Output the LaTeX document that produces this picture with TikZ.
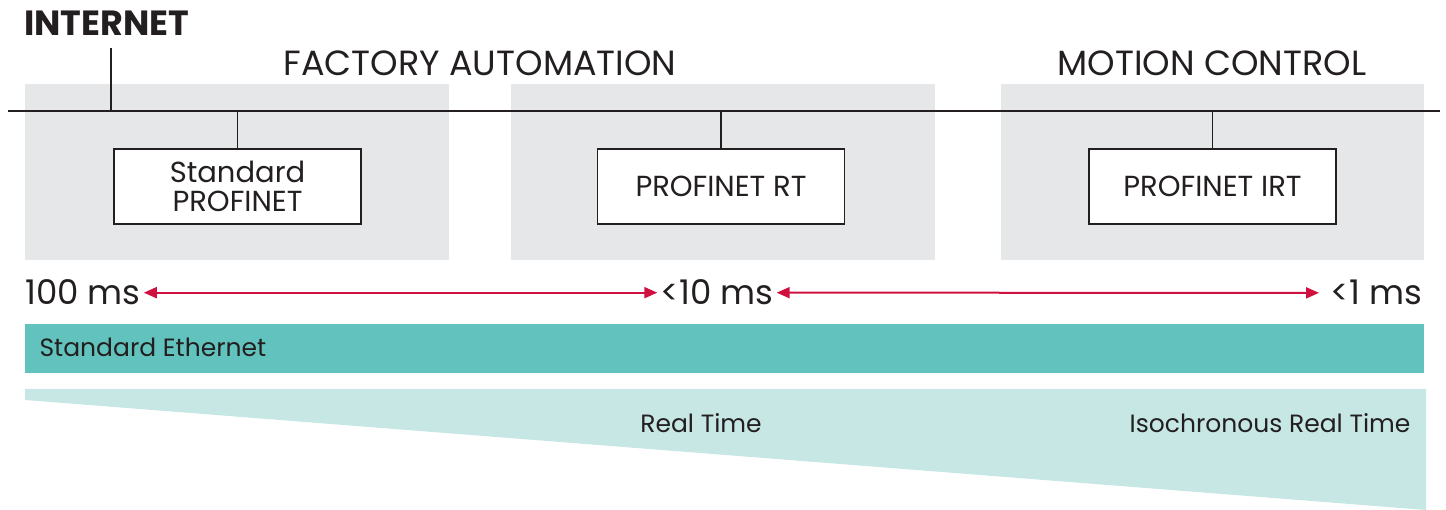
\documentclass[tikz,border=0pt]{standalone}
\usepackage{fontspec}
\setmainfont{Poppins}
\usetikzlibrary{arrows.meta}

\definecolor{areagray}{HTML}{E6E7E8}
\definecolor{ethteal}{HTML}{62C3BE}
\definecolor{rtteal}{HTML}{C7E7E5}
\definecolor{msred}{HTML}{D0103F}
\definecolor{txt}{HTML}{231F20}

\tikzset{
	devbox/.style={draw=txt, fill=white, line width=1.3pt, minimum width=247pt, minimum height=75pt, align=center, font=\fontsize{29}{34}\selectfont, text=txt},
	headline/.style={font=\fontsize{35}{42}\selectfont, text=txt},
	mslabel/.style={font=\fontsize{34}{40}\selectfont, text=txt, inner sep=3pt},
	latency/.style={msred, line width=2pt, {Triangle[length=13pt,width=11pt]}-{Triangle[length=13pt,width=11pt]}},
	small/.style={font=\fontsize{25}{30}\selectfont, text=txt}
}

\begin{document}
\begin{tikzpicture}[x=1pt,y=-1pt]
	\useasboundingbox (0,0) rectangle (1446,510);
	% grey areas
	\fill[areagray] (25,84) rectangle (449,260);
	\fill[areagray] (511,84) rectangle (935,260);
	\fill[areagray] (1001,84) rectangle (1424,260);
	% headlines
	\node[headline, font=\bfseries\fontsize{35}{42}\selectfont, anchor=base west, inner sep=0pt] (internet) at (24,36) {INTERNET};
	\node[headline, anchor=base] (factory) at (480,76) {FACTORY AUTOMATION};
	\node[headline, anchor=base] (motion) at (1212,76) {MOTION CONTROL};
	% bus
	\coordinate (busL) at (8,111);
	\coordinate (busR) at (1440,111);
	\coordinate (inet) at (111,48);
	\draw[txt, line width=1.3pt] (busL) -- (busR);
	\draw[txt, line width=1.3pt] (inet) -- (inet |- busL);
	% devices
	\node[devbox] (std) at (237.5,186.5) {Standard\\[-5pt]PROFINET};
	\node[devbox] (rt) at (721,186.5) {PROFINET RT};
	\node[devbox] (irt) at (1212.5,186.5) {PROFINET IRT};
	\foreach \d in {std,rt,irt}
		\draw[txt, line width=1.3pt] (\d.north) -- (\d.north |- busL);
	% latency
	\node[mslabel, anchor=base west] (t100) at (22,305) {100 ms};
	\node[mslabel, anchor=base] (t10) at (717,305) {<10 ms};
	\node[mslabel, anchor=base east] (t1) at (1425,305) {<1 ms};
	\draw[latency] (t100.east) -- (t10.west);
	\draw[latency] (t10.east) -- ([xshift=-8pt]t1.west);
	% ethernet bar
	\fill[ethteal] (25,324) rectangle (1424,373);
	\node[small, anchor=base west] (eth) at (36,357) {Standard Ethernet};
	% real time wedge
	\fill[rtteal] (25,389) -- (1426,389) -- (1426,510) -- (25,400) -- cycle;
	\node[small, anchor=base] (rtime) at (701,432) {Real Time};
	\node[small, anchor=base east] (isort) at (1414,432) {Isochronous Real Time};
\end{tikzpicture}
\end{document}
